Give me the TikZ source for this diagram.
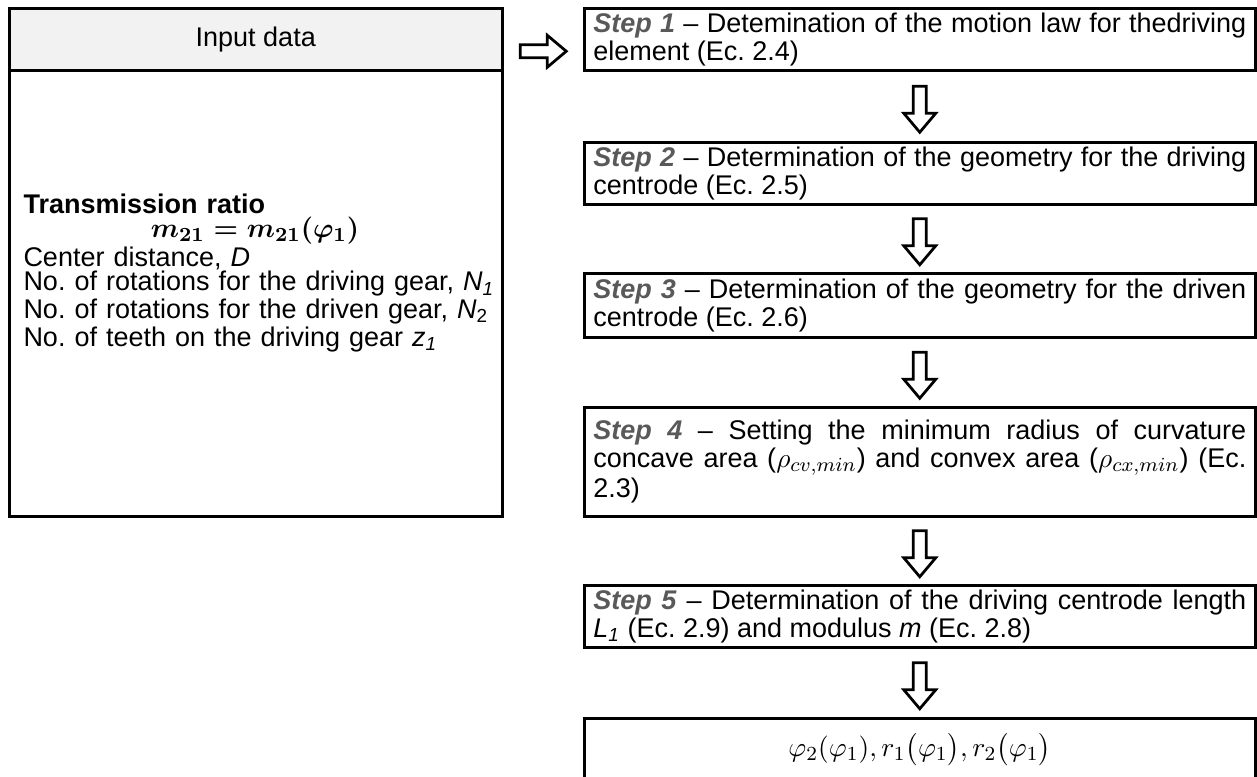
\documentclass[tikz,border=0pt]{standalone}
\usepackage{amsmath,amssymb}
\usepackage{fontspec}
\setmainfont{Liberation Sans}
\usepackage{tikz}
\usetikzlibrary{calc}
\definecolor{stepgray}{RGB}{89,89,89}
\definecolor{headgray}{RGB}{242,242,242}
\hyphenpenalty=10000
\exhyphenpenalty=10000
\frenchspacing
\newcommand{\steplabel}[1]{\textcolor{stepgray}{\textbf{\textit{Step #1}}}}
\newcommand{\flowarrow}[2]{\draw[blockarrow,shift={#1},rotate=#2] (-23,-6.5) -- (4,-6.5) -- (4,-16) -- (23,0) -- (4,16) -- (4,6.5) -- (-23,6.5) -- cycle;}

\begin{document}
\begin{tikzpicture}[x=0.4pt,y=0.4pt,font=\fontsize{10.8pt}{9.8pt}\selectfont,
	box/.style={draw,line width=1pt,anchor=north west,inner sep=0pt},
	stepbox/.style={box,minimum width=268.4pt,text width=261.2pt,inner xsep=3.6pt,align=justify},
	blockarrow/.style={line width=1.1pt,fill=white,line join=miter}]
	\useasboundingbox (0,0) rectangle (1257,-776);
	\node[box,fill=headgray,minimum width=197.2pt,minimum height=24.8pt](input) at (8,-7) {Input data};
	\node[box,minimum width=197.2pt,minimum height=178.4pt](inputbody) at (8,-69) {};
	\node[anchor=north west,inner sep=0pt,text width=192pt,align=left](inputs) at (23,-193) {\textbf{Transmission ratio}\\
		\makebox[185.2pt]{\boldmath$m_{21}=m_{21}(\varphi_1)$}\\
		Center distance, \textit{D}\\
		No. of rotations for the driving gear, \textit{N}\textsubscript{\textit{1}}\\
		No. of rotations for the driven gear, \textit{N}\textsubscript{2}\\
		No. of teeth on the driving gear \textit{z}\textsubscript{\textit{1}}};
	
	\node[stepbox,minimum height=24.8pt](s1) at (583,-7) {\steplabel{1} -- Detemination of the motion law for thedriving element (Ec. 2.4)};
	\node[stepbox,minimum height=24.8pt](s2) at (583,-141) {\steplabel{2} -- Determination of the geometry for the driving centrode (Ec. 2.5)};
	\node[stepbox,minimum height=25.6pt](s3) at (583,-272) {\steplabel{3} -- Determination of the geometry for the driven centrode (Ec. 2.6)};
	\node[stepbox,minimum height=43.6pt](s4) at (583,-406) {\steplabel{4} -- Setting the minimum radius of curvature concave area ($\rho_{cv,min}$) and convex area ($\rho_{cx,min}$) (Ec. 2.3)};
	\node[stepbox,minimum height=24.8pt](s5) at (583,-584) {\steplabel{5} -- Determination of the driving centrode length\linebreak \textit{L}\textsubscript{\textit{1}} (Ec. 2.9) and modulus \textit{m} (Ec. 2.8)};
	\node[box,minimum width=268.4pt,minimum height=24.8pt](res) at (583,-717) {$\varphi_2(\varphi_1), r_1\big(\varphi_1\big), r_2\big(\varphi_1\big)$};
	
	\flowarrow{($(input.east)!.5!(s1.west)+(0,-12)$)}{0}
	\flowarrow{($(s1.south)!.5!(s2.north)+(0,-3)$)}{-90}
	\flowarrow{($(s2.south)!.5!(s3.north)+(0,-3)$)}{-90}
	\flowarrow{($(s3.south)!.5!(s4.north)+(0,-3)$)}{-90}
	\flowarrow{($(s4.south)!.5!(s5.north)+(0,-3)$)}{-90}
	\flowarrow{($(s5.south)!.5!(res.north)+(0,-3)$)}{-90}
\end{tikzpicture}
\end{document}
